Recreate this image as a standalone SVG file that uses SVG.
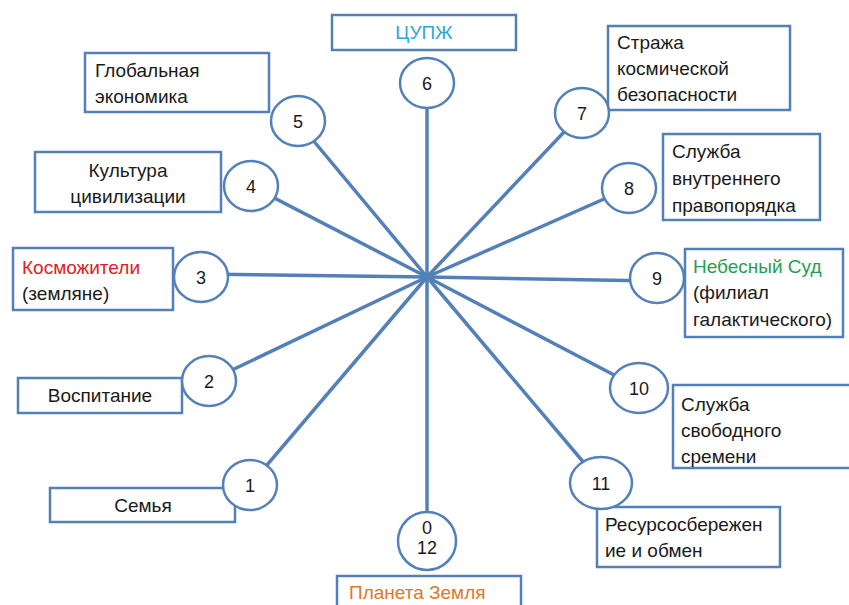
<svg xmlns="http://www.w3.org/2000/svg" width="849" height="605" viewBox="0 0 849 605">
<style>
.box{fill:#fff;stroke:#5480b8;stroke-width:2.5}
.c{fill:#fff;stroke:#5480b8;stroke-width:2.5}
.ln{stroke:#5480b8;stroke-width:3.5;fill:none}
text{font-family:"Liberation Sans",Arial,sans-serif;font-size:19px;fill:#1a1a1a}
.n{text-anchor:middle;font-size:18px}
.m{text-anchor:middle}
</style>
<rect width="849" height="605" fill="#fff"/>
<g id="connectors">
<line class="ln" x1="427" y1="83" x2="427" y2="546"/>
<line class="ln" x1="427" y1="277" x2="297" y2="121"/>
<line class="ln" x1="427" y1="277" x2="251" y2="186"/>
<line class="ln" x1="427" y1="277" x2="201" y2="274"/>
<line class="ln" x1="427" y1="277" x2="209" y2="381"/>
<line class="ln" x1="427" y1="277" x2="250" y2="485"/>
<line class="ln" x1="427" y1="277" x2="582" y2="113"/>
<line class="ln" x1="427" y1="277" x2="629" y2="188"/>
<line class="ln" x1="427" y1="277" x2="657" y2="281"/>
<line class="ln" x1="427" y1="277" x2="639" y2="388"/>
<line class="ln" x1="427" y1="277" x2="601" y2="483"/>
</g>
<g id="n6"><rect class="box" x="332" y="15" width="184" height="35"/><text class="m" x="424" y="39" style="fill:#2aa9d2">ЦУПЖ</text><ellipse class="c" cx="427" cy="83" rx="27" ry="25"/><text class="n" x="427" y="90">6</text></g>
<g id="n5"><rect class="box" x="85" y="53" width="184" height="59"/><text x="95" y="77">Глобальная</text><text x="95" y="103">экономика</text><ellipse class="c" cx="298" cy="121" rx="27" ry="25"/><text class="n" x="298" y="128">5</text></g>
<g id="n4"><rect class="box" x="35" y="152" width="186" height="60"/><text class="m" x="128" y="177">Культура</text><text class="m" x="128" y="203">цивилизации</text><ellipse class="c" cx="251" cy="186" rx="27" ry="25"/><text class="n" x="251" y="193">4</text></g>
<g id="n3"><rect class="box" x="13" y="248" width="160" height="62"/><text x="22" y="274" style="fill:#e02020">Косможители</text><text x="22" y="300">(земляне)</text><ellipse class="c" cx="201" cy="277" rx="27" ry="25"/><text class="n" x="201" y="284">3</text></g>
<g id="n2"><rect class="box" x="18" y="378" width="164" height="35"/><text class="m" x="100" y="402">Воспитание</text><ellipse class="c" cx="209" cy="381" rx="27" ry="25"/><text class="n" x="209" y="388">2</text></g>
<g id="n1"><rect class="box" x="50" y="488" width="185" height="34"/><text class="m" x="143" y="512">Семья</text><ellipse class="c" cx="250" cy="485" rx="27" ry="25"/><text class="n" x="250" y="492">1</text></g>
<g id="n7"><rect class="box" x="608" y="26" width="182" height="84"/><text x="617" y="49">Стража</text><text x="617" y="75">космической</text><text x="617" y="101">безопасности</text><ellipse class="c" cx="582" cy="113" rx="27" ry="25"/><text class="n" x="582" y="120">7</text></g>
<g id="n8"><rect class="box" x="663" y="134" width="157" height="86"/><text x="672" y="158">Служба</text><text x="672" y="185">внутреннего</text><text x="672" y="212">правопорядка</text><ellipse class="c" cx="629" cy="188" rx="27" ry="25"/><text class="n" x="629" y="195">8</text></g>
<g id="n9"><rect class="box" x="685" y="249" width="158" height="88"/><text x="693" y="273" style="fill:#1fa050">Небесный Суд</text><text x="693" y="299">(филиал</text><text x="693" y="326">галактического)</text><ellipse class="c" cx="657" cy="278" rx="27" ry="25"/><text class="n" x="657" y="285">9</text></g>
<g id="n10"><rect class="box" x="673" y="385" width="180" height="83"/><text x="681" y="411">Служба</text><text x="681" y="437">свободного</text><text x="681" y="463">сремени</text><ellipse class="c" cx="639" cy="388" rx="29" ry="25"/><text class="n" x="639" y="395">10</text></g>
<g id="n11"><rect class="box" x="597" y="507" width="183" height="60"/><text x="605" y="531">Ресурсосбережен</text><text x="605" y="557">ие и обмен</text><ellipse class="c" cx="601" cy="483" rx="31" ry="26"/><text class="n" x="601" y="490">11</text></g>
<g id="n0"><ellipse class="c" cx="427" cy="541" rx="29" ry="29"/><text class="n" x="427" y="534">0</text><text class="n" x="427" y="554">12</text><rect class="box" x="337" y="576" width="184" height="35"/><text x="349" y="599" style="fill:#e07828">Планета Земля</text></g>
</svg>
